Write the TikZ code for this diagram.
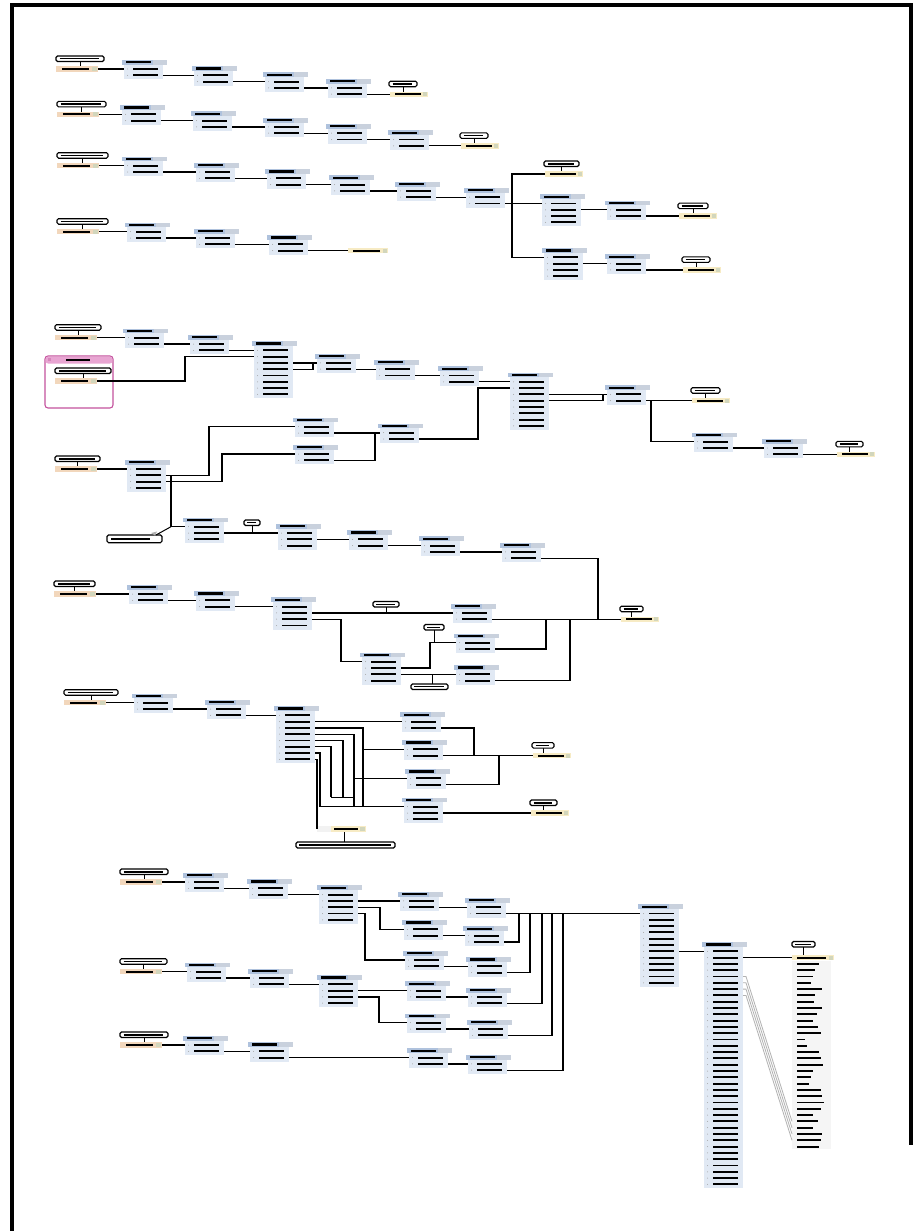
\documentclass[tikz,border=0pt]{standalone}
\usepackage{tikz}
\definecolor{hdr}{HTML}{AFC2DD}
\definecolor{hdrg}{HTML}{C9D1DD}
\definecolor{bodyc}{HTML}{E1E9F4}
\definecolor{peach}{HTML}{F2D7BC}
\definecolor{yel}{HTML}{F7EBC4}
\definecolor{pinkb}{HTML}{C4529E}
\definecolor{pinkh}{HTML}{E8A5D2}
\definecolor{iconc}{HTML}{D2D6BC}
\tikzset{
 bar/.style={line width=1.9pt, black},
 conn/.style={line width=1.3pt, black},
 lbl/.style={draw=black, line width=1.1pt, fill=white, rounded corners=1.5pt},
 stem/.style={line width=0.6pt, black},
 grl/.style={line width=0.8pt, gray!60},
}
% table: name, x, y of first row, number of rows
\newcommand\tbl[4]{%
 \pgfmathsetmacro\tbB{#3+6.3*(#4-1)+4}%
 \fill[bodyc] (#2+2,#3-4.5) rectangle (#2+41,\tbB);
 \fill[hdr] (#2,#3-9.2) rectangle (#2+45,#3-4.4);
 \fill[hdrg] (#2+31,#3-9.2) rectangle (#2+45,#3-4.4);
 \draw[line width=2.1pt] (#2+4,#3-6.8) -- (#2+29,#3-6.8);
 \foreach \ii in {1,...,#4}{%
   \pgfmathsetmacro\ry{#3+6.3*(\ii-1)}%
   \draw[bar] (#2+11,\ry) -- (#2+36,\ry);
   \fill[gray!70] (#2+5.5,\ry) circle (0.5pt);
   \coordinate (#1r\ii) at (#2+2,\ry);
   \coordinate (#1o\ii) at (#2+41,\ry);
 }%
 \coordinate (#1) at (#2,#3-9.2);
}
% source: name, x, y, label width
\newcommand\src[4]{%
 \draw[stem] (#2+#4/2,#3-7.5) -- (#2+#4/2,#3-2.7);
 \draw[lbl] (#2,#3-13) rectangle (#2+#4,#3-7.5);
 \draw[line width=1.5pt] (#2+3.5,#3-10.25) -- (#2+#4-5,#3-10.25);
 \fill[peach] (#2,#3-2.7) rectangle (#2+42,#3+2.7);
 \draw[bar] (#2+6,#3) -- (#2+33,#3);
 \fill[iconc] (#2+36,#3-2) rectangle (#2+41,#3+2);
 \coordinate (#1) at (#2+42,#3);
}
% target: name, x, y, label width
\newcommand\tgt[4]{%
 \draw[stem] (#2-1+#4/2,#3-7.5) -- (#2-1+#4/2,#3-2.7);
 \draw[lbl] (#2-1,#3-13) rectangle (#2-1+#4,#3-7.5);
 \draw[line width=1.5pt] (#2+2.5,#3-10.25) -- (#2+#4-6,#3-10.25);
 \fill[yel] (#2,#3-2.7) rectangle (#2+38,#3+2.7);
 \draw[bar] (#2+5,#3) -- (#2+31,#3);
 \fill[iconc] (#2+33,#3-2) rectangle (#2+37,#3+2);
 \coordinate (#1) at (#2,#3);
}
% small label box: name, x1, y1, x2, y2
\newcommand\lbx[5]{%
 \draw[lbl] (#2,#3) rectangle (#4,#5);
 \draw[line width=1.4pt] ({#2+3},{(#3+#5)/2}) -- ({#4-4},{(#3+#5)/2});
 \coordinate (#1) at ({(#2+#4)/2},#5);
}
\newcommand\cs[2]{\draw[conn] (#1) -- (#1 -| #2);}
\newcommand\ce[3]{\coordinate (tmpx) at (#2,0); \draw[conn] (#1) -- (#1 -| tmpx) |- (#3);}
\newcommand\cj[3]{\coordinate (tmpx) at (#2,0); \draw[conn] (#1) -- (#1 -| tmpx) -- (tmpx |- #3);}
\begin{document}
\begin{tikzpicture}[x=1pt,y=-1pt]
\useasboundingbox (0,0) rectangle (922,1231);
\fill[white] (0,0) rectangle (922,1231);
\draw[line width=4pt] (12,1231) -- (12,5.3) -- (911,5.3) -- (911,1145);

% ---------------- row A
\src{sA}{56}{69}{48}
\tbl{A1}{122}{69}{2}
\tbl{A2}{192}{75.3}{2}
\tbl{A3}{263}{81.6}{2}
\tbl{A4}{326}{87.9}{2}
\tgt{At}{390}{94.2}{28}
\cs{sA}{A1r1} \cs{A1o2}{A2r1} \cs{A2o2}{A3r1} \cs{A3o2}{A4r1} \cs{A4o2}{At}

% ---------------- row B
\src{sB}{57}{114.3}{49}
\tbl{B1}{120}{114.3}{2}
\tbl{B2}{191}{120.6}{2}
\tbl{B3}{263}{126.9}{2}
\tbl{B4}{326}{133.2}{2}
\tbl{B5}{388}{139.5}{2}
\tgt{Bt}{461}{145.8}{28}
\cs{sB}{B1r1} \cs{B1o2}{B2r1} \cs{B2o2}{B3r1} \cs{B3o2}{B4r1} \cs{B4o2}{B5r1} \cs{B5o2}{Bt}

% ---------------- row C
\src{sC}{57}{165.7}{51}
\tbl{C1}{122}{165.7}{2}
\tbl{C2}{194}{172}{2}
\tbl{C3}{265}{178.3}{2}
\tbl{C4}{329}{184.6}{2}
\tbl{C5}{395}{190.9}{2}
\tbl{C6}{464}{197.2}{2}
\tbl{C7}{540}{203.5}{4}
\tbl{C8}{605}{209.8}{2}
\tbl{C9}{542}{257.3}{4}
\tbl{C10}{605}{263.6}{2}
\tgt{Ct1}{545}{174}{35}
\tgt{Ct2}{679}{216.1}{30}
\tgt{Ct3}{683}{269.9}{28}
\cs{sC}{C1r1} \cs{C1o2}{C2r1} \cs{C2o2}{C3r1} \cs{C3o2}{C4r1} \cs{C4o2}{C5r1} \cs{C5o2}{C6r1}
\cs{C6o2}{C7r1}
\coordinate (tmpx) at (512,0);
\draw[conn] (Ct1) -- (tmpx |- Ct1) |- (C9r1);
\cs{C7o2}{C8r1} \cs{C8o2}{Ct2} \cs{C9o2}{C10r1} \cs{C10o2}{Ct3}

% ---------------- row D
\src{sD}{57}{231.7}{51}
\tbl{D1}{125}{231.7}{2}
\tbl{D2}{194}{238}{2}
\tbl{D3}{267}{244.3}{2}
\fill[yel] (348,247.9) rectangle (388,253.3);
\draw[bar] (353,250.6) -- (380,250.6);
\fill[iconc] (383,248.6) rectangle (387,252.6);
\coordinate (Dt) at (348,250.6);
\cs{sD}{D1r1} \cs{D1o2}{D2r1} \cs{D2o2}{D3r1} \cs{D3o2}{Dt}

% ---------------- row E
\src{sE}{55}{337.7}{46}
\tbl{E1}{123}{337.7}{2}
\tbl{E2}{188}{344}{2}
\tbl{E3}{252}{350.3}{8}
\tbl{E4}{315}{362.9}{2}
\tbl{E5}{374}{369.2}{2}
\tbl{E6}{438}{375.5}{2}
\tbl{E7}{508}{381.8}{8}
\tbl{E8}{605}{394.4}{2}
\tbl{E9}{692}{441.7}{2}
\tbl{E10}{762}{448}{2}
\tgt{Et1}{692}{400.7}{29}
\tgt{Et2}{837}{454.3}{27}
% pink group
\draw[pinkb, line width=1.1pt, rounded corners=3pt, fill=white] (45,356) rectangle (113,408);
\fill[pinkh, rounded corners=2.5pt] (45.6,356.6) rectangle (112.4,363.5);
\draw[line width=1.6pt] (66,360) -- (90,360);
\fill[pinkb!70!white] (48,357.5) rectangle (51,360.5);
\src{sEg}{55}{381}{56}
\cs{sE}{E1r1} \cs{E1o2}{E2r1} \cs{E2o2}{E3r1}
\ce{sEg}{185}{E3r2}
\cs{E3o3}{E4r1} \ce{E3o4}{313}{E4r1}
\cs{E4o2}{E5r1} \cs{E5o2}{E6r1} \cs{E6o2}{E7r1}
\cs{E7o3}{E8r1} \ce{E7o4}{603}{E8r1}
\cs{E8o2}{Et1} \ce{E8o2}{651}{E9r1}
\cs{E9o2}{E10r1} \cs{E10o2}{Et2}
% feeders
\tbl{EM}{378}{432.7}{2}
\tbl{EU}{293}{426.7}{2}
\tbl{EL}{293}{454}{2}
\cs{EUo2}{EMr1}
\ce{ELo2}{375}{EMr1}
\ce{EMo2}{478}{E7r2}
% source X
\src{sX}{55}{469}{45}
\tbl{EX}{125}{469}{4}
\cs{sX}{EXr1}
\ce{EXo2}{209}{EUr1}
\ce{EXo3}{222}{ELr1}
\tbl{EY}{183}{526.7}{3}
\coordinate (tmpx) at (171,0);
\draw[conn] (EXo2 -| tmpx) |- (EYr1);
\draw[lbl] (107,535) rectangle (162,542.7);
\draw[line width=1.4pt] (111,538.85) -- (150,538.85);
\coordinate (EZ) at (156,535);
\draw[line width=1pt] (tmpx |- EYr1) -- (EZ);
\fill[gray!60] (151,533) -- (157,531.5) -- (155,535.5) -- cycle;
\tbl{EY2}{276}{533}{3}
\tbl{EY3}{347}{539.3}{2}
\tbl{EY4}{419}{545.6}{2}
\tbl{EY5}{500}{551.9}{2}
\cs{EYo2}{EY2r1}
\lbx{EYl}{244}{520}{260}{525.5}
\draw[stem] (EYl) -- (252,533);
\cs{EY2o2}{EY3r1} \cs{EY3o2}{EY4r1} \cs{EY4o2}{EY5r1}

% ---------------- row F
\src{sF}{54}{594}{41}
\tbl{F1}{127}{594}{2}
\tbl{F2}{194}{600.3}{2}
\tbl{F3}{271}{606.6}{4}
\tbl{F4}{451}{612.9}{2}
\tbl{F5}{360}{661.7}{4}
\tbl{F6}{454}{642.7}{2}
\tbl{F7}{454}{674.3}{2}
\tgt{Ft}{621}{619.2}{23}
\cs{sF}{F1r1} \cs{F1o2}{F2r1} \cs{F2o2}{F3r1}
\cs{F3o2}{F4r1}
\lbx{Fl1}{373}{601.5}{399}{607}
\draw[stem] (Fl1) -- (386,612.9);
\ce{F3o3}{341}{F5r1}
\ce{F5o2}{430}{F6r1}
\lbx{Fl2}{424}{624.5}{444}{630}
\draw[stem] (Fl2) -- (434,642.7);
\cs{F5o3}{F7r1}
\draw[lbl] (411,684) rectangle (448,689.5);
\draw[line width=1.4pt] (414,686.75) -- (444,686.75);
\coordinate (Fl3) at (432,684);
\draw[stem] (Fl3) -- (432,674.3);
\cs{F4o2}{Ft}
\cj{F6o2}{546}{Ft}
\cj{F7o2}{570}{Ft}
\coordinate (tmpx) at (598,0);
\draw[conn] (EY5o2) -- (EY5o2 -| tmpx) -- (tmpx |- Ft);

% ---------------- row G
\src{sG}{64}{702.7}{54}
\tbl{G1}{132}{702.7}{2}
\tbl{G2}{205}{709}{2}
\tbl{G3}{274}{715.3}{8}
\tbl{G4}{400}{721.6}{2}
\tbl{G5}{402}{749.3}{2}
\tbl{G6}{405}{778.3}{2}
\tbl{G7}{402}{806.7}{3}
\tgt{Gt1}{533}{755.6}{22}
\tgt{Gt2}{531}{813}{27}
\cs{sG}{G1r1} \cs{G1o2}{G2r1} \cs{G2o2}{G3r1}
\cs{G3o2}{G4r1}
\ce{G3o3}{363}{G5r1}
\draw[conn] (tmpx |- G5r1) -- (tmpx |- G7r1);
\ce{G3o4}{354}{G6r1}
\draw[conn] (tmpx |- G6r1) -- (tmpx |- G7r1);
\coordinate (gj) at (354,797.3);
\cj{G3o5}{343}{gj}
\cj{G3o6}{331}{gj}
\draw[conn] (tmpx |- gj) -- (gj);
\ce{G3o7}{320}{G7r1}
% bottom target
\fill[gray!10] (317,826.3) rectangle (331,831.7);
\fill[yel] (331,826.3) rectangle (366,831.7);
\draw[bar] (334,829) -- (358,829);
\fill[iconc] (360,827) rectangle (365,831);
\coordinate (Gb) at (317,829);
\ce{G3o8}{317}{Gb}
\lbx{Gl}{296}{842}{395}{848}
\draw[stem] (344,842) -- (344,831.7);
\cj{G4o2}{474}{Gt1}
\cs{G5o2}{Gt1}
\cj{G6o2}{499}{Gt1}
\cs{G7o2}{Gt2}

% ---------------- row H
\src{sH1}{120}{882}{48}
\tbl{H1a}{183}{882}{2}
\tbl{H1b}{247}{888.3}{2}
\tbl{H1c}{317}{894.6}{5}
\tbl{H1d}{398}{900.9}{2}
\tbl{H1e}{465}{907.2}{2}
\tbl{H1f}{402}{929.3}{2}
\tbl{H1g}{463}{935.6}{2}
\tbl{H1h}{403}{960}{2}
\tbl{H1i}{466}{966.3}{2}
\cs{sH1}{H1ar1} \cs{H1ao2}{H1br1} \cs{H1bo2}{H1cr1}
\cs{H1co2}{H1dr1} \cs{H1do2}{H1er1}
\ce{H1co3}{380}{H1fr1} \cs{H1fo2}{H1gr1}
\ce{H1co4}{365}{H1hr1} \cs{H1ho2}{H1ir1}

\src{sH2}{120}{971.7}{47}
\tbl{H2a}{185}{971.7}{2}
\tbl{H2b}{248}{978}{2}
\tbl{H2c}{317}{984.3}{4}
\tbl{H2d}{405}{990.6}{2}
\tbl{H2e}{466}{996.9}{2}
\tbl{H2f}{405}{1022.7}{2}
\tbl{H2g}{467}{1029}{2}
\cs{sH2}{H2ar1} \cs{H2ao2}{H2br1} \cs{H2bo2}{H2cr1}
\cs{H2co2}{H2dr1} \cs{H2do2}{H2er1}
\ce{H2co3}{379}{H2fr1} \cs{H2fo2}{H2gr1}

\src{sH3}{120}{1045}{48}
\tbl{H3a}{183}{1045}{2}
\tbl{H3b}{248}{1051.3}{2}
\tbl{H3c}{407}{1057.6}{2}
\tbl{H3d}{466}{1063.9}{2}
\cs{sH3}{H3ar1} \cs{H3ao2}{H3br1} \cs{H3bo2}{H3cr1} \cs{H3co2}{H3dr1}

\tbl{HM}{638}{913.5}{12}
\tbl{HB}{702}{951.3}{38}
\cs{H1eo2}{HMr1}
\cj{H1go2}{519}{HMr1}
\cj{H1io2}{530}{HMr1}
\cj{H2eo2}{542}{HMr1}
\cj{H2go2}{552}{HMr1}
\cj{H3do2}{563}{HMr1}
\cs{HMo7}{HBr1}

% final target list
\fill[gray!8] (792,960.5) rectangle (831,1149);
\fill[yel] (792,954.9) rectangle (834,960.3);
\draw[bar] (797,957.6) -- (826,957.6);
\fill[iconc] (829,955.6) rectangle (833,959.6);
\coordinate (HT) at (792,957.6);
\lbx{HTl}{792}{941.5}{815}{947}
\draw[stem] (HTl) -- (803.5,954.9);
\foreach \L [count=\k] in {22,18,16,14,25,18,17,25,20,16,21,24,8,10,22,24,26,16,14,12,24,25,27,24,16,21,16,25,24,22}{%
  \draw[bar] (797,957.6+6.3*\k) -- (797+\L,957.6+6.3*\k);
  \coordinate (HTr\k) at (792,957.6+6.3*\k);
}
\cs{HBo2}{HT}
\foreach \a/\b in {5/26,6/27,7/28,8/29}{%
  \draw[grl] (HBo\a) -- ++(3,0) -- (HTr\b);
}
\end{tikzpicture}
\end{document}
